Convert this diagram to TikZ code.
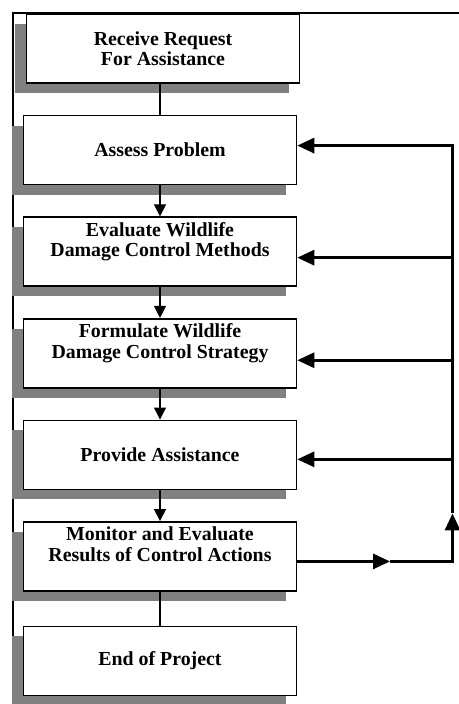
\documentclass[tikz,border=0pt]{standalone}
\usepackage{fontspec}
\setmainfont{Liberation Serif}
\usepackage{tikz}
\usetikzlibrary{positioning, arrows.meta, shadows}
\tikzset{
    stage/.style={rectangle, draw=black, line width=0.9pt, fill=white, minimum width=5.46cm, minimum height=1.38cm, inner sep=0pt, align=center, font=\fontsize{11.3}{11.5}\selectfont\bfseries, drop shadow={shadow xshift=-0.22cm, shadow yshift=-0.2cm, fill=black!50, opacity=1}},
    lifted/.style={text depth=14pt},
    link/.style={line width=0.6pt},
    flow/.style={line width=0.6pt, -{Triangle[length=0.24cm, width=0.24cm]}},
    feedback/.style={line width=1.7pt},
    fbtip/.style={-{Triangle[length=0.34cm, width=0.3cm]}},
}

\begin{document}
\begin{tikzpicture}[node distance=0.62cm]
    \useasboundingbox (0,0) rectangle (9.18,-14.08);
    % outer frame
    \draw[line width=1pt] (9.18,-0.26) -- (0.26,-0.26) -- (0.26,-14.08);

    % main steps
    \node[stage] (receive) at (3.26,-0.97) {Receive Request\\For Assistance};
    \node[stage, below=of receive, xshift=-0.06cm] (assess) {Assess Problem};
    \node[stage, lifted, below=of assess] (evaluate) {Evaluate Wildlife\\Damage Control Methods};
    \node[stage, lifted, below=of evaluate] (formulate) {Formulate Wildlife\\Damage Control Strategy};
    \node[stage, below=of formulate] (provide) {Provide Assistance};
    \node[stage, lifted, below=of provide] (monitor) {Monitor and Evaluate\\Results of Control Actions};
    \node[stage, below=0.68cm of monitor] (finish) {End of Project};

    \draw[link] (assess.north) -- (assess.north |- receive.south);
    \draw[flow] (assess) -- (evaluate);
    \draw[flow] (evaluate) -- (formulate);
    \draw[flow] (formulate) -- (provide);
    \draw[flow] (provide) -- (monitor);
    \draw[link] (monitor) -- (finish);

    % feedback loop
    \coordinate (rail) at (9.05,0);
    \coordinate (outend) at ([yshift=-0.1cm]monitor.east -| rail);
    \coordinate (outmid) at ([xshift=-1.25cm]outend);
    \coordinate (upmid) at ([yshift=0.96cm]outend);
    \draw[feedback, fbtip] ([yshift=-0.1cm]monitor.east) -- (outmid);
    \draw[feedback, fbtip] (outmid) -- (outend) -- (upmid);
    \draw[feedback, fbtip] (upmid) |- ([yshift=0.09cm]assess.east);
    \draw[feedback, fbtip] ([yshift=-0.12cm]evaluate.east -| rail) -- ([yshift=-0.12cm]evaluate.east);
    \draw[feedback, fbtip] ([yshift=-0.14cm]formulate.east -| rail) -- ([yshift=-0.14cm]formulate.east);
    \draw[feedback, fbtip] ([yshift=-0.09cm]provide.east -| rail) -- ([yshift=-0.09cm]provide.east);
\end{tikzpicture}
\end{document}
